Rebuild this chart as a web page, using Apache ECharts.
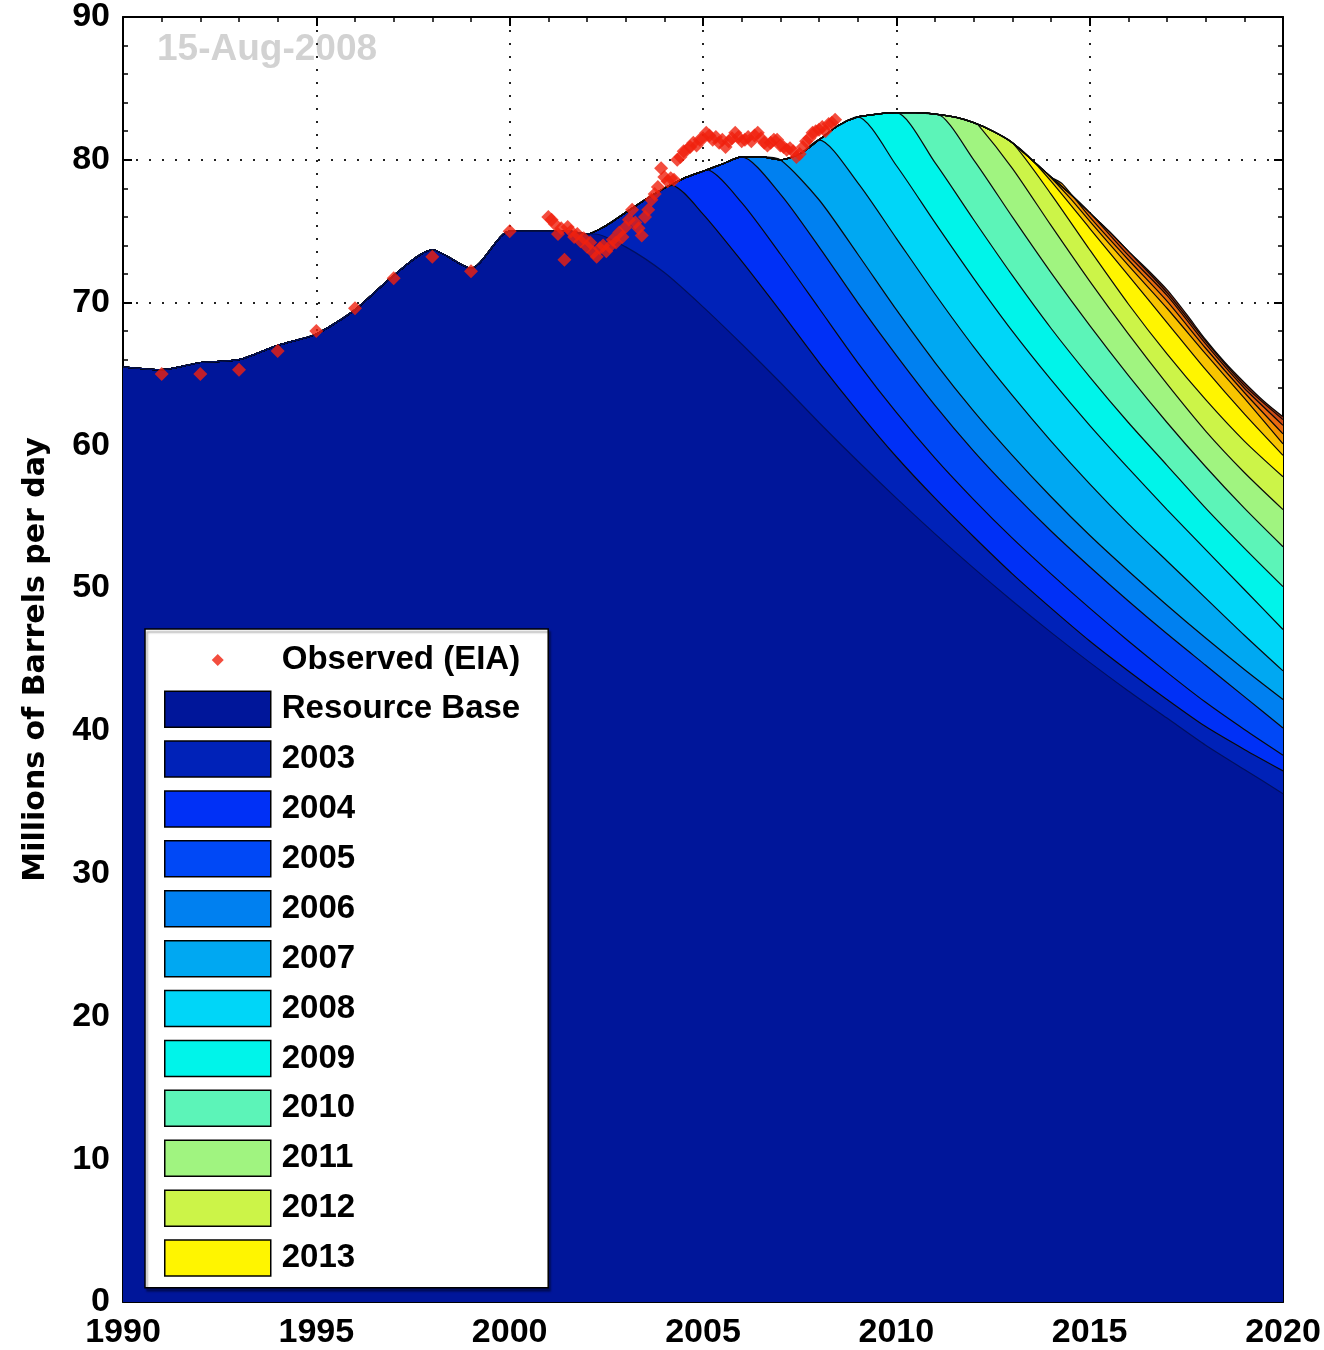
<!DOCTYPE html>
<html><head><meta charset="utf-8">
<script src="https://cdn.jsdelivr.net/npm/echarts@6/dist/echarts.min.js"></script>
<style>html,body{margin:0;padding:0;background:#fff;overflow:hidden}#c{width:1324px;height:1350px}</style>
</head><body><div id="c"></div>
<script>
// Top envelope of the stacked forecast (Millions of barrels per day)
const envelopeYears = [1990,1991,1992,1993,1994,1995,1996,1997,1998,1999,2000,2001,
  2001.5,2002,2002.5,2003,2003.5,2004,2004.5,2005,2005.5,2006,2006.5,2007,2007.5,2008,2008.5,
  2009,2009.5,2010,2010.5,2011,2011.5,2012,2012.5,2013,2013.5,2014,2014.5,2015,2015.5,2016,
  2016.5,2017,2017.5,2018,2018.5,2019,2019.5,2020];
const envelopeValues = [65.5,65.3,65.8,66.0,67.0,67.8,69.5,71.9,73.7,72.4,75.0,75.0,
  75.0,74.8,75.4,76.3,77.2,78.0,78.7,79.2,79.7,80.2,80.2,80.0,80.4,81.4,82.4,
  83.0,83.2,83.3,83.3,83.2,83.0,82.6,82.0,81.2,80.0,78.8,77.6,76.3,75.0,73.6,
  72.3,70.9,69.2,67.4,65.8,64.4,63.1,62.0];

// Upper boundary of each layer after it leaves the envelope: [year, cumulative value]
const rbDecline = [[2002.2,74.8],[2003,73.9],[2004,72.1],[2005,69.7],[2006,67.1],[2007,64.4],[2008,61.6],[2009,58.9],[2010,56.3],[2011,53.8],[2012,51.4],[2013,49.1],[2014,46.9],[2015,44.8],[2016,42.8],[2017,40.9],[2018,39.0],[2019,37.3],[2020,35.6]];
const d2003 = [[2004.2,78.2],[2005,76.2],[2006,72.9],[2007,69.4],[2008,65.8],[2009,62.4],[2010,59.2],[2011,56.3],[2012,53.6],[2013,51.0],[2014,48.6],[2015,46.3],[2016,44.2],[2017,42.2],[2018,40.3],[2019,38.7],[2020,37.2]];
const d2004 = [[2005.1,79.3],[2006,77.0],[2007,73.4],[2008,69.6],[2009,65.8],[2010,62.3],[2011,59.1],[2012,56.2],[2013,53.5],[2014,51.0],[2015,48.6],[2016,46.3],[2017,44.1],[2018,42.0],[2019,40.1],[2020,38.3]];
const d2005 = [[2006,80.2],[2007,77.6],[2008,73.9],[2009,70.0],[2010,66.3],[2011,62.8],[2012,59.6],[2013,56.7],[2014,54.0],[2015,51.5],[2016,49.1],[2017,46.8],[2018,44.6],[2019,42.4],[2020,40.2]];
const d2006 = [[2007,80.0],[2008,77.2],[2009,73.4],[2010,69.5],[2011,65.8],[2012,62.4],[2013,59.3],[2014,56.4],[2015,53.7],[2016,51.2],[2017,48.8],[2018,46.5],[2019,44.3],[2020,42.2]];
const d2007 = [[2008,81.4],[2009,78.4],[2010,74.5],[2011,70.6],[2012,66.9],[2013,63.5],[2014,60.3],[2015,57.3],[2016,54.5],[2017,51.9],[2018,49.3],[2019,46.7],[2020,44.2]];
const d2008 = [[2009,83.0],[2010,79.6],[2011,75.6],[2012,71.7],[2013,68.0],[2014,64.6],[2015,61.4],[2016,58.4],[2017,55.5],[2018,52.7],[2019,49.9],[2020,47.1]];
const d2009 = [[2010,83.3],[2011,79.8],[2012,75.8],[2013,71.9],[2014,68.2],[2015,64.8],[2016,61.6],[2017,58.6],[2018,55.6],[2019,52.8],[2020,50.1]];
const d2010 = [[2011.05,83.2],[2012,80.0],[2013,76.0],[2014,72.1],[2015,68.4],[2016,64.9],[2017,61.6],[2018,58.5],[2019,55.6],[2020,52.9]];
const d2011 = [[2012.1,82.5],[2013,79.4],[2014,75.4],[2015,71.5],[2016,67.8],[2017,64.3],[2018,61.0],[2019,58.1],[2020,55.5]];
const d2012 = [[2013,81.2],[2014,77.6],[2015,73.7],[2016,69.9],[2017,66.4],[2018,63.2],[2019,60.3],[2020,57.8]];
const d2013 = [[2013.4,80.3],[2014,78.5],[2015,75.2],[2016,71.9],[2017,68.6],[2018,65.3],[2019,62.2],[2020,59.3]];
const d2014 = [[2013.8,79.3],[2014.5,77.3],[2015,75.7],[2016,72.6],[2017,69.6],[2018,66.4],[2019,63.3],[2020,60.1]];
const d2015 = [[2014.3,78.3],[2015,76.0],[2016,73.0],[2017,70.1],[2018,66.8],[2019,63.7],[2020,60.8]];
const d2016 = [[2015,76.3],[2016,73.3],[2017,70.5],[2018,67.1],[2019,64.0],[2020,61.4]];
const d2017 = [[2016,73.6],[2017,70.7],[2018,67.3],[2019,64.2],[2020,61.8]];
const d2018 = []; // top layer follows the envelope

const layerNames = ['Resource Base','2003','2004','2005','2006','2007','2008','2009','2010','2011','2012','2013','2014','2015','2016','2017','2018'];
const layerDeclines = [rbDecline,d2003,d2004,d2005,d2006,d2007,d2008,d2009,d2010,d2011,d2012,d2013,d2014,d2015,d2016,d2017,d2018];
const layerColors = ['#00169A','#0022B8','#0030F6','#0048F6','#0080F0','#00A8F2','#00D6F8','#00F4EA','#5CF4B8','#A0F480','#CCF448','#FFF500','#F8C400','#F29400','#E86A10','#CC4A14','#A03014'];

// Observed (EIA): annual 1991-2000, monthly 2001-2008
const obsAnnualYears = [1991,1992,1993,1994,1995,1996,1997,1998,1999,2000];
const obsAnnualValues = [65.0,65.0,65.3,66.6,68.0,69.6,71.7,73.2,72.2,75.0];
const obsMonthlyStart = 2001;
const obsMonthlyValues = [
  76.0,75.8,75.5,74.8,75.2,73.0,75.3,75.0,74.6,74.8,74.3,74.5,
  73.9,74.2,73.5,73.2,73.8,74.0,73.6,73.9,74.4,74.2,74.9,74.6,
  75.3,75.8,76.5,75.6,75.2,74.7,76.0,76.5,77.2,77.6,78.1,79.4,
  78.8,78.5,78.7,78.6,80.0,80.2,80.6,80.7,80.9,81.2,81.0,81.4,
  81.5,81.9,81.7,81.4,81.6,81.2,81.4,80.9,81.3,81.5,81.9,81.6,
  81.3,81.4,81.6,81.3,81.7,81.9,81.5,81.2,81.0,81.2,81.4,81.4,
  81.0,80.9,80.7,80.8,80.6,80.2,80.4,80.9,81.3,81.5,81.9,82.0,
  82.1,82.3,82.0,82.5,82.6,82.8];

const legendNames = ['Observed (EIA)','Resource Base','2003','2004','2005','2006','2007','2008','2009','2010','2011','2012','2013'];

function boundary(decl){
  const pts = [];
  const start = decl.length ? decl[0][0] : Infinity;
  for (let i=0;i<envelopeYears.length;i++){ if (envelopeYears[i] < start) pts.push([envelopeYears[i], envelopeValues[i]]); }
  return pts.concat(decl);
}

const series = [];
for (let k = layerNames.length-1; k >= 0; k--){
  series.push({
    name: layerNames[k], type:'line', data: boundary(layerDeclines[k]),
    smooth: 0.25, showSymbol:false, symbol:'none',
    itemStyle:{color: layerColors[k], borderColor:'#000', borderWidth:1.5},
    lineStyle:{color: k===0 ? '#001060' : '#0a0a0a', width: 1.2},
    areaStyle:{color: layerColors[k], opacity:1},
    silent:true, animation:false
  });
}
const obsData = obsAnnualYears.map((y,i)=>[y, obsAnnualValues[i]])
  .concat(obsMonthlyValues.map((v,i)=>[obsMonthlyStart + i/12, v]));
series.push({name:'Observed (EIA)', type:'scatter', data: obsData, symbol:'diamond', symbolSize:14,
  itemStyle:{color:'#F0200E'}, z:5, animation:false});

const axisFont = "'Liberation Sans',Arial,sans-serif";
const tickStyle = {show:true, inside:true, length:9, lineStyle:{color:'#000', width:2}};
const minorStyle = {show:true, splitNumber:5, length:5, lineStyle:{color:'#000', width:1.5}};
const gridLine = {show:true, lineStyle:{color:'#222', width:2, type:[2,11]}};

const option = {
  backgroundColor:'#fff',
  animation:false,
  grid:{left:123, right:41, top:17, bottom:48, containLabel:false, outerBoundsMode:'none'},
  xAxis:[
    {type:'value', min:1990, max:2020, interval:5, position:'bottom',
     axisLine:{show:true, onZero:false, lineStyle:{color:'#000', width:2}},
     axisTick:tickStyle, minorTick:minorStyle, splitLine:gridLine,
     axisLabel:{fontSize:34, fontWeight:'bold', color:'#000', fontFamily:axisFont, margin:14, formatter:v=>String(v)}},
    {type:'value', min:1990, max:2020, interval:5, position:'top',
     axisLine:{show:true, onZero:false, lineStyle:{color:'#000', width:2}},
     axisTick:tickStyle, minorTick:minorStyle, splitLine:{show:false}, axisLabel:{show:false}}
  ],
  yAxis:[
    {type:'value', min:0, max:90, interval:10, position:'left',
     name:'Millions of Barrels per day', nameLocation:'middle', nameGap:72,
     nameTextStyle:{fontSize:30, fontWeight:'bold', color:'#000', fontFamily:"'DejaVu Sans',sans-serif"},
     axisLine:{show:true, onZero:false, lineStyle:{color:'#000', width:2}},
     axisTick:tickStyle, minorTick:minorStyle, splitLine:gridLine,
     axisLabel:{fontSize:34, fontWeight:'bold', color:'#000', fontFamily:axisFont, margin:13}},
    {type:'value', min:0, max:90, interval:10, position:'right',
     axisLine:{show:true, onZero:false, lineStyle:{color:'#000', width:2}},
     axisTick:tickStyle, minorTick:minorStyle, splitLine:{show:false}, axisLabel:{show:false}}
  ],
  legend:{
    orient:'vertical', left:145, top:629,
    padding:[13,28,11,19], itemWidth:106, itemHeight:36, itemGap:12.4,
    backgroundColor:'#fff', borderColor:'#000', borderWidth:1.5,
    shadowColor:'rgba(0,0,0,0.35)', shadowOffsetX:2, shadowOffsetY:3, shadowBlur:2,
    icon:'rect', selectedMode:false,
    itemStyle:{borderColor:'#000', borderWidth:1.5},
    textStyle:{fontSize:33, fontWeight:'bold', color:'#000', fontFamily:"'Liberation Sans',Arial,sans-serif", lineHeight:36, padding:[0,0,0,6]},
    data: legendNames.map(n => n==='Observed (EIA)'
      ? {name:n, icon:'path://M0,0L0.01,0M106,36L105.99,36M53,12L59,18L53,24L47,18Z', itemStyle:{color:'#F0200E', borderWidth:0}}
      : {name:n})
  },
  graphic:[{type:'text', left:157, top:31, silent:true,
    style:{text:'15-Aug-2008', fill:'#d2d2d2', font:"bold 37px 'Liberation Sans', Arial, sans-serif"}}],
  series: series
};
const chart = echarts.init(document.getElementById('c'), null, {renderer:'canvas'});
chart.setOption(option);
</script></body></html>
